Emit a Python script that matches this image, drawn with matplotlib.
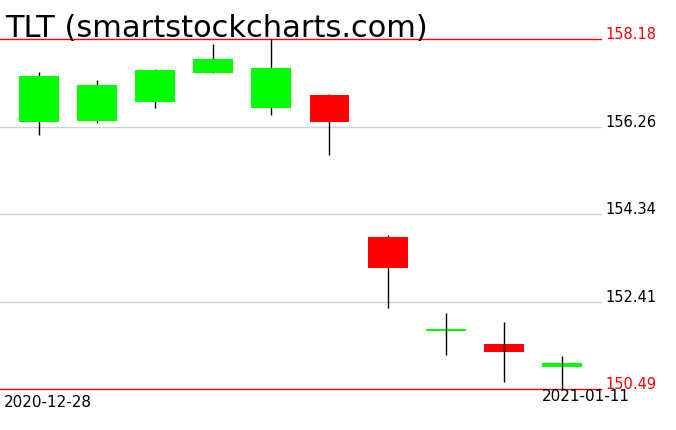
import matplotlib
matplotlib.use("Agg")
import matplotlib.pyplot as plt
from matplotlib.transforms import blended_transform_factory

# daily candles, TLT
datas = ["2020-12-28", "2020-12-29", "2020-12-30", "2020-12-31", "2021-01-04",
         "2021-01-05", "2021-01-06", "2021-01-07", "2021-01-08", "2021-01-11"]
aberturas = [156.37, 156.39, 156.81, 157.45, 156.66, 156.96, 153.84, 151.76, 151.49, 150.99]
fechamentos = [157.37, 157.18, 157.51, 157.75, 157.55, 156.37, 153.16, 151.80, 151.32, 151.07]
maximas = [157.47, 157.29, 157.53, 158.08, 158.18, 156.97, 153.87, 152.16, 151.97, 151.22]
minimas = [156.08, 156.35, 156.67, 157.44, 156.52, 155.64, 152.28, 151.25, 150.66, 150.49]

niveis = [158.18, 156.26, 154.34, 152.41, 150.49]
rotulos_niveis = ["158.18", "156.26", "154.34", "152.41", "150.49"]

W, H = 676, 431
fig = plt.figure(figsize=(W / 100, H / 100), dpi=100)
ax = fig.add_axes([0, 40.7 / H, 600.7 / W, 350 / H])

topo = max(maximas)
fundo = min(minimas)
ax.set_ylim(fundo, topo)
ax.set_xlim(-0.671, len(datas) - 1 + 0.668)
ax.axis("off")

# linhas horizontais
for nivel in niveis:
    cor = "#ff0000" if nivel in (topo, fundo) else "#d3d3d3"
    ax.axhline(nivel, color=cor, linewidth=1.0, zorder=0, clip_on=False)

largura = 0.688
for i in range(len(datas)):
    o, c, h, l = aberturas[i], fechamentos[i], maximas[i], minimas[i]
    cor = "#00ff00" if c >= o else "#ff0000"
    corpo = abs(c - o)
    z_pavio = 3 if corpo < 0.25 else 1
    ax.plot([i, i], [l, h], color="black", linewidth=1.0, zorder=z_pavio,
            clip_on=False, solid_capstyle="butt")
    ax.bar(i, max(corpo, 0.05), bottom=min(o, c), width=largura, color=cor,
           linewidth=0, zorder=2)

# rotulos de preco na direita
tr = blended_transform_factory(fig.transFigure, ax.transData)
for nivel, txt in zip(niveis, rotulos_niveis):
    cor = "#ff0000" if nivel in (topo, fundo) else "black"
    ax.text(605 / W, nivel + 0.02, txt, transform=tr, color=cor,
            fontsize=10.5, ha="left", va="baseline", clip_on=False)

# datas
tr2 = blended_transform_factory(ax.transData, fig.transFigure)
fig.text(4 / W, 1 - 406.7 / H, datas[0], fontsize=11, ha="left", va="baseline")
ax.text(len(datas) - 1 - largura / 2, 1 - 401 / H, datas[-1], transform=tr2,
        fontsize=11, ha="left", va="baseline", clip_on=False)

fig.text(5 / W, 1 - 36.7 / H, "TLT (smartstockcharts.com)", fontsize=22,
         ha="left", va="baseline")

fig.savefig("out.png", dpi=100)
